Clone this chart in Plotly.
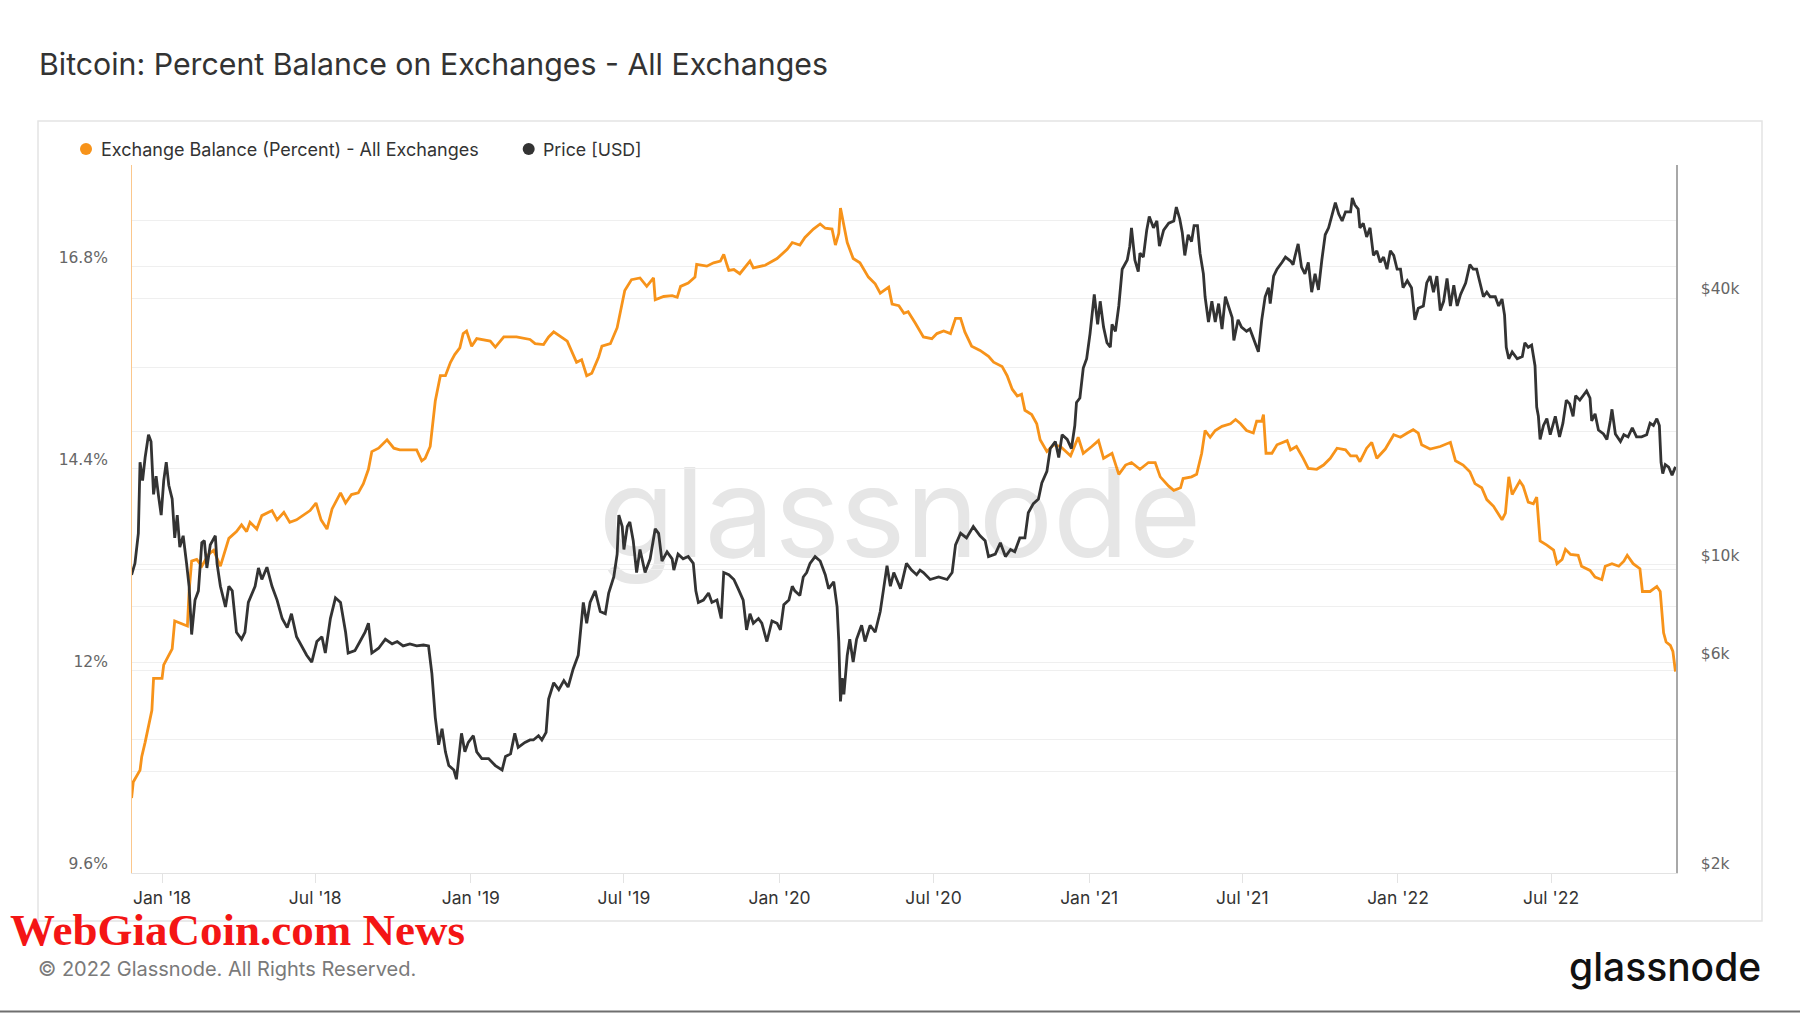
import math
import plotly.graph_objects as go

TITLE = "Bitcoin: Percent Balance on Exchanges - All Exchanges"
SERIES_NAMES = ["Exchange Balance (Percent) - All Exchanges", "Price [USD]"]
COPYRIGHT = "© 2022 Glassnode. All Rights Reserved."
BRAND = "glassnode"
OVERLAY_TAG = "WebGiaCoin.com News"

balance_dates = [
    "2017-11-26","2017-11-28","2017-12-06","2017-12-08","2017-12-12","2017-12-16","2017-12-20","2017-12-22","2018-01-01","2018-01-03",
    "2018-01-09","2018-01-13","2018-01-16","2018-01-24","2018-01-31","2018-02-02","2018-02-05","2018-02-11","2018-02-17","2018-02-25",
    "2018-03-03","2018-03-11","2018-03-17","2018-03-21","2018-03-30","2018-04-05","2018-04-11","2018-04-15","2018-04-23","2018-04-29",
    "2018-05-11","2018-05-17","2018-05-25","2018-06-01","2018-06-09","2018-06-17","2018-06-25","2018-07-02","2018-07-08","2018-07-15",
    "2018-07-21","2018-07-31","2018-08-06","2018-08-13","2018-08-21","2018-08-27","2018-09-02","2018-09-06","2018-09-14","2018-09-24",
    "2018-10-02","2018-10-09","2018-10-29","2018-11-04","2018-11-08","2018-11-14","2018-11-16","2018-11-20","2018-11-26","2018-12-02",
    "2018-12-08","2018-12-13","2018-12-19","2018-12-23","2018-12-27","2019-01-02","2019-01-08","2019-01-24","2019-01-30","2019-02-09",
    "2019-02-24","2019-03-12","2019-03-18","2019-03-28","2019-04-03","2019-04-09","2019-04-25","2019-05-01","2019-05-06","2019-05-12",
    "2019-05-18","2019-05-24","2019-06-01","2019-06-05","2019-06-15","2019-06-23","2019-06-29","2019-07-02","2019-07-10","2019-07-20",
    "2019-07-28","2019-08-05","2019-08-07","2019-08-17","2019-08-27","2019-09-02","2019-09-06","2019-09-15","2019-09-23","2019-09-25",
    "2019-10-07","2019-10-15","2019-10-23","2019-10-27","2019-10-31","2019-11-02","2019-11-08","2019-11-15","2019-11-27","2019-12-01",
    "2019-12-15","2019-12-29","2020-01-10","2020-01-16","2020-01-25","2020-01-31","2020-02-10","2020-02-18","2020-02-24","2020-03-03",
    "2020-03-07","2020-03-11","2020-03-13","2020-03-17","2020-03-21","2020-03-28","2020-04-05","2020-04-15","2020-04-23","2020-04-29",
    "2020-05-09","2020-05-13","2020-05-21","2020-05-27","2020-06-01","2020-06-09","2020-06-19","2020-06-29","2020-07-05","2020-07-13",
    "2020-07-21","2020-07-27","2020-08-02","2020-08-07","2020-08-15","2020-08-25","2020-09-04","2020-09-10","2020-09-20","2020-09-26",
    "2020-10-02","2020-10-08","2020-10-13","2020-10-17","2020-10-25","2020-10-31","2020-11-04","2020-11-12","2020-11-20","2020-11-28",
    "2020-12-10","2020-12-19","2020-12-25","2021-01-04","2021-01-12","2021-01-18","2021-01-28","2021-02-05","2021-02-13","2021-02-20",
    "2021-03-02","2021-03-12","2021-03-20","2021-03-26","2021-04-05","2021-04-11","2021-04-19","2021-04-22","2021-05-02","2021-05-08",
    "2021-05-14","2021-05-18","2021-05-24","2021-05-30","2021-06-07","2021-06-17","2021-06-23","2021-06-29","2021-07-06","2021-07-14",
    "2021-07-18","2021-07-24","2021-07-26","2021-07-29","2021-08-05","2021-08-11","2021-08-23","2021-08-27","2021-09-03","2021-09-11",
    "2021-09-17","2021-09-27","2021-10-05","2021-10-13","2021-10-21","2021-10-31","2021-11-06","2021-11-13","2021-11-17","2021-11-25",
    "2021-12-01","2021-12-07","2021-12-17","2021-12-27","2022-01-04","2022-01-12","2022-01-19","2022-01-25","2022-01-29","2022-02-08",
    "2022-02-20","2022-03-04","2022-03-10","2022-03-19","2022-03-27","2022-04-02","2022-04-10","2022-04-16","2022-04-24","2022-05-04",
    "2022-05-08","2022-05-12","2022-05-16","2022-05-25","2022-05-29","2022-06-04","2022-06-10","2022-06-14","2022-06-18","2022-06-26",
    "2022-07-04","2022-07-08","2022-07-14","2022-07-18","2022-07-24","2022-08-02","2022-08-06","2022-08-16","2022-08-22","2022-08-30",
    "2022-09-03","2022-09-11","2022-09-19","2022-09-25","2022-09-29","2022-10-06","2022-10-14","2022-10-17","2022-10-26","2022-11-03",
    "2022-11-07","2022-11-11","2022-11-14","2022-11-19","2022-11-22","2022-11-25",
]
balance_pct = [
    10.49,10.68,10.82,10.98,11.15,11.36,11.53,11.91,11.91,12.07,
    12.18,12.26,12.59,12.56,12.53,12.94,13.30,13.32,13.24,13.38,
    13.43,13.24,13.43,13.57,13.65,13.73,13.65,13.76,13.68,13.84,
    13.90,13.79,13.88,13.76,13.79,13.84,13.90,13.99,13.79,13.68,
    13.92,14.11,13.99,14.09,14.11,14.22,14.39,14.60,14.64,14.74,
    14.64,14.62,14.62,14.49,14.52,14.66,14.85,15.20,15.50,15.50,
    15.66,15.75,15.83,16.00,16.03,15.85,15.94,15.91,15.84,15.96,
    15.96,15.93,15.88,15.87,15.96,16.02,15.91,15.77,15.66,15.69,
    15.50,15.53,15.72,15.85,15.88,16.07,16.35,16.51,16.64,16.66,
    16.56,16.66,16.40,16.44,16.45,16.43,16.56,16.60,16.67,16.82,
    16.80,16.84,16.86,16.94,16.81,16.75,16.76,16.71,16.86,16.78,
    16.81,16.89,17.00,17.08,17.05,17.14,17.24,17.30,17.25,17.24,
    17.05,17.19,17.49,17.30,17.08,16.89,16.84,16.67,16.59,16.48,
    16.55,16.35,16.33,16.24,16.26,16.13,15.96,15.94,16.00,16.03,
    16.00,16.18,16.18,16.02,15.85,15.80,15.73,15.66,15.61,15.50,
    15.34,15.26,15.28,15.09,15.04,14.93,14.74,14.60,14.68,14.66,
    14.55,14.77,14.58,14.66,14.73,14.52,14.58,14.33,14.44,14.47,
    14.39,14.47,14.47,14.30,14.19,14.14,14.17,14.28,14.30,14.33,
    14.58,14.85,14.77,14.85,14.90,14.93,14.98,14.93,14.85,14.82,
    14.96,14.96,15.04,14.58,14.58,14.68,14.73,14.62,14.66,14.52,
    14.40,14.39,14.44,14.52,14.64,14.62,14.55,14.55,14.48,14.64,
    14.71,14.52,14.63,14.80,14.77,14.82,14.86,14.82,14.68,14.63,
    14.66,14.71,14.49,14.44,14.36,14.22,14.17,14.03,13.95,13.79,
    13.87,14.30,14.09,14.25,14.19,14.00,13.98,14.06,13.54,13.49,
    13.43,13.27,13.32,13.44,13.38,13.37,13.24,13.19,13.11,13.08,
    13.24,13.27,13.24,13.30,13.37,13.27,13.21,12.94,12.94,13.00,
    12.94,12.45,12.34,12.30,12.23,11.99,
]

price_dates = [
    "2017-11-26","2017-11-30","2017-12-04","2017-12-06","2017-12-09","2017-12-12","2017-12-16","2017-12-19","2017-12-22","2017-12-25",
    "2017-12-28","2017-12-31","2018-01-03","2018-01-06","2018-01-09","2018-01-13","2018-01-16","2018-01-19","2018-01-22","2018-01-26",
    "2018-01-30","2018-02-02","2018-02-05","2018-02-09","2018-02-13","2018-02-17","2018-02-20","2018-02-23","2018-02-27","2018-03-05",
    "2018-03-07","2018-03-11","2018-03-17","2018-03-21","2018-03-25","2018-03-30","2018-04-05","2018-04-09","2018-04-13","2018-04-21",
    "2018-04-25","2018-04-29","2018-05-05","2018-05-11","2018-05-17","2018-05-23","2018-05-29","2018-06-03","2018-06-09","2018-06-15",
    "2018-06-21","2018-06-27","2018-07-03","2018-07-09","2018-07-13","2018-07-19","2018-07-25","2018-07-31","2018-08-06","2018-08-09",
    "2018-08-17","2018-08-23","2018-08-29","2018-09-02","2018-09-06","2018-09-14","2018-09-22","2018-09-30","2018-10-06","2018-10-13",
    "2018-10-21","2018-10-29","2018-11-06","2018-11-12","2018-11-16","2018-11-20","2018-11-24","2018-11-28","2018-12-02","2018-12-06",
    "2018-12-12","2018-12-15","2018-12-19","2018-12-21","2018-12-25","2018-12-29","2019-01-04","2019-01-08","2019-01-14","2019-01-22",
    "2019-01-30","2019-02-07","2019-02-11","2019-02-17","2019-02-22","2019-02-26","2019-03-06","2019-03-12","2019-03-16","2019-03-22",
    "2019-03-26","2019-03-31","2019-04-03","2019-04-09","2019-04-15","2019-04-21","2019-04-26","2019-05-02","2019-05-08","2019-05-11",
    "2019-05-14","2019-05-18","2019-05-22","2019-05-28","2019-06-03","2019-06-09","2019-06-13","2019-06-19","2019-06-23","2019-06-25",
    "2019-06-29","2019-07-01","2019-07-05","2019-07-08","2019-07-12","2019-07-16","2019-07-20","2019-07-26","2019-08-01","2019-08-07",
    "2019-08-11","2019-08-15","2019-08-21","2019-08-27","2019-08-29","2019-09-03","2019-09-09","2019-09-15","2019-09-21","2019-09-24",
    "2019-09-27","2019-10-03","2019-10-09","2019-10-13","2019-10-19","2019-10-24","2019-10-27","2019-11-02","2019-11-08","2019-11-13",
    "2019-11-19","2019-11-23","2019-11-27","2019-12-01","2019-12-07","2019-12-11","2019-12-17","2019-12-23","2019-12-29","2020-01-02",
    "2020-01-06","2020-01-12","2020-01-16","2020-01-19","2020-01-25","2020-01-29","2020-02-02","2020-02-06","2020-02-12","2020-02-18",
    "2020-02-24","2020-02-28","2020-03-05","2020-03-09","2020-03-11","2020-03-13","2020-03-15","2020-03-17","2020-03-21","2020-03-24",
    "2020-03-28","2020-04-01","2020-04-07","2020-04-11","2020-04-17","2020-04-23","2020-04-29","2020-05-03","2020-05-07","2020-05-11",
    "2020-05-15","2020-05-23","2020-05-30","2020-06-05","2020-06-11","2020-06-15","2020-06-19","2020-06-27","2020-07-07","2020-07-17",
    "2020-07-23","2020-07-27","2020-08-02","2020-08-09","2020-08-17","2020-08-25","2020-08-31","2020-09-04","2020-09-12","2020-09-18",
    "2020-09-24","2020-09-30","2020-10-05","2020-10-11","2020-10-17","2020-10-21","2020-10-27","2020-11-02","2020-11-06","2020-11-12",
    "2020-11-16","2020-11-22","2020-11-26","2020-11-30","2020-12-06","2020-12-11","2020-12-15","2020-12-17","2020-12-21","2020-12-25",
    "2020-12-29","2021-01-02","2021-01-07","2021-01-11","2021-01-14","2021-01-18","2021-01-22","2021-01-26","2021-01-28","2021-02-01",
    "2021-02-05","2021-02-09","2021-02-15","2021-02-18","2021-02-20","2021-02-24","2021-02-28","2021-03-02","2021-03-06","2021-03-10",
    "2021-03-13","2021-03-18","2021-03-22","2021-03-25","2021-03-30","2021-04-05","2021-04-11","2021-04-14","2021-04-18","2021-04-21",
    "2021-04-24","2021-04-28","2021-05-02","2021-05-05","2021-05-09","2021-05-12","2021-05-16","2021-05-18","2021-05-20","2021-05-22",
    "2021-05-26","2021-05-30","2021-06-03","2021-06-07","2021-06-11","2021-06-15","2021-06-19","2021-06-21","2021-06-26","2021-06-30",
    "2021-07-06","2021-07-10","2021-07-14","2021-07-20","2021-07-24","2021-07-28","2021-08-01","2021-08-03","2021-08-07","2021-08-11",
    "2021-08-17","2021-08-21","2021-08-27","2021-08-30","2021-09-01","2021-09-05","2021-09-09","2021-09-13","2021-09-17","2021-09-21",
    "2021-09-25","2021-09-29","2021-10-03","2021-10-07","2021-10-11","2021-10-15","2021-10-19","2021-10-23","2021-10-27","2021-10-31",
    "2021-11-06","2021-11-08","2021-11-11","2021-11-15","2021-11-17","2021-11-21","2021-11-25","2021-11-29","2021-12-03","2021-12-07",
    "2021-12-11","2021-12-15","2021-12-19","2021-12-23","2021-12-27","2021-12-31","2022-01-04","2022-01-07","2022-01-12","2022-01-17",
    "2022-01-21","2022-01-25","2022-01-31","2022-02-04","2022-02-08","2022-02-12","2022-02-16","2022-02-20","2022-02-24","2022-02-28",
    "2022-03-04","2022-03-08","2022-03-12","2022-03-16","2022-03-22","2022-03-27","2022-03-31","2022-04-04","2022-04-08","2022-04-12",
    "2022-04-16","2022-04-20","2022-04-26","2022-04-30","2022-05-04","2022-05-07","2022-05-09","2022-05-12","2022-05-16","2022-05-22",
    "2022-05-28","2022-05-31","2022-06-04","2022-06-08","2022-06-12","2022-06-14","2022-06-16","2022-06-18","2022-06-22","2022-06-26",
    "2022-06-30","2022-07-06","2022-07-11","2022-07-15","2022-07-19","2022-07-23","2022-07-27","2022-07-30","2022-08-04","2022-08-08",
    "2022-08-12","2022-08-16","2022-08-18","2022-08-22","2022-08-26","2022-09-01","2022-09-05","2022-09-09","2022-09-11","2022-09-15",
    "2022-09-21","2022-09-25","2022-09-30","2022-10-05","2022-10-10","2022-10-16","2022-10-22","2022-10-26","2022-10-30","2022-11-03",
    "2022-11-06","2022-11-08","2022-11-10","2022-11-13","2022-11-17","2022-11-21","2022-11-25",
]
price_usd = [
    9460,10040,11740,17000,15450,17420,19620,18940,14380,15820,
    14200,12910,15450,17000,15080,14040,11460,12910,10920,11590,
    10040,8910,6930,8290,8700,11180,11300,9800,11050,11590,
    10040,8910,8000,8910,8700,7010,6760,7010,8190,8910,
    9800,9230,9840,8910,8290,7530,7180,7720,6850,6530,
    6220,6000,6680,6850,6290,7530,8390,8190,7010,6290,
    6370,6680,7010,7350,6290,6450,6760,6600,6680,6530,
    6600,6530,6560,6530,5650,4500,3900,4240,3760,3500,
    3420,3260,3850,4140,3760,3950,4090,3760,3630,3630,
    3500,3420,3670,3720,4140,3850,3950,4000,4000,4090,
    4000,4160,4950,5390,5200,5450,5270,5790,6220,7180,
    8190,7350,8190,8700,7810,7720,8600,9350,10530,12910,
    12160,10790,12160,12460,11300,9570,10790,9570,10280,12020,
    11740,10160,10660,10280,9690,10530,10280,10400,10040,8700,
    8190,8290,8600,8190,8290,7530,9570,9460,9230,8800,
    8290,7100,7720,7350,7530,7350,6680,7440,7350,7100,
    8090,8290,8910,8700,8490,9350,9570,10040,10400,10160,
    9460,8800,9120,8000,6680,4890,5520,5070,6220,6760,
    6000,6760,7270,6680,7270,7010,7810,8800,9920,8910,
    9570,8800,10040,9690,9460,9690,9570,9230,9350,9230,
    9570,11050,11740,11460,12160,11590,11300,10400,10530,11180,
    10400,10790,10660,11460,11460,13070,13700,14040,15260,16210,
    18260,18940,17420,19620,19150,18260,20590,23220,23760,27780,
    29150,33240,40760,34870,39330,34370,31690,30950,34870,33640,
    38380,46480,48760,52400,57660,48760,45920,50540,49500,56980,
    61200,57660,59780,52400,56980,59060,59780,64240,60470,56300,
    49940,55620,53680,58350,58350,50540,45380,40270,37480,35300,
    39330,35300,38860,34040,40270,37920,36140,32070,35720,34370,
    33640,34040,32460,30220,35720,40270,42220,38860,44830,46480,
    48180,49500,48500,47620,49500,53040,47000,45380,48180,41250,
    45380,41720,48760,55620,57660,61940,65780,61940,59780,62690,
    62690,67380,65000,63560,57660,59060,55000,57660,49940,51160,
    48180,49500,46480,51160,49940,46480,46480,42220,43780,42220,
    35720,37920,38380,43270,44830,41250,44830,37480,39330,44300,
    38380,42740,38380,40760,43270,47620,46480,46480,43270,40270,
    41250,40270,40270,38380,39800,36600,30950,29150,30220,29150,
    29500,31690,30950,31300,28120,22670,21600,19150,20590,21340,
    19620,21600,19400,20840,23500,23050,21600,24060,23500,24060,
    24640,23760,21100,21870,20110,19700,19150,21100,22400,19700,
    18940,19620,19400,20350,19400,19400,19620,20840,20590,21340,
    20590,17000,16020,16800,16580,15900,16600,
]

pct_tick_values = [9.6, 10.8, 12.0, 13.2, 14.4, 15.6, 16.8, 18.0]
pct_tick_labels = ["9.6%", "", "12%", "", "14.4%", "", "16.8%", ""]
price_tick_values = [2000, 4000, 6000, 8000, 10000, 20000, 40000, 60000]
price_tick_labels = ["$2k", "", "$6k", "", "$10k", "", "$40k", ""]
pct_range = [9.6, 18.0]
price_range = [2000, 80000]
date_range = ["2017-11-26 12:00", "2022-11-25 16:00"]

assert len(balance_dates) == len(balance_pct)
assert len(price_dates) == len(price_usd)

# ---------------- layout geometry ----------------
W, H = 1800, 1013
L, R, T, B = 132, 124, 165, 140
PW, PH = W - L - R, H - T - B


def fx(x):
    return (x - L) / PW


def fy(y):
    return (H - B - y) / PH


ORANGE = "#f7931a"
DARK = "#333333"
GRID = "#efefef"

fig = go.Figure()
fig.add_trace(go.Scatter(
    x=balance_dates, y=balance_pct, mode="lines", name=SERIES_NAMES[0],
    line=dict(color=ORANGE, width=2.8), yaxis="y", showlegend=False,
))
fig.add_trace(go.Scatter(
    x=price_dates, y=price_usd, mode="lines", name=SERIES_NAMES[1],
    line=dict(color=DARK, width=2.8), yaxis="y2", showlegend=False,
))

tick_font = dict(family="DejaVu Sans", size=15.5, color="#666666")

fig.update_layout(
    width=W, height=H,
    margin=dict(l=L, r=R, t=T, b=B, pad=0),
    paper_bgcolor="white", plot_bgcolor="white",
    showlegend=False,
    xaxis=dict(
        type="date", range=date_range, tickformat="%b '%y", dtick="M6", tick0="2018-01-01",
        showgrid=False, zeroline=False, showline=True, linecolor="#e3e3e3", linewidth=1,
        ticks="outside", ticklen=9, tickcolor="#e3e3e3", tickwidth=1,
        tickfont=dict(family="Inter", size=17.5, color="#333333"),
    ),
    yaxis=dict(
        range=pct_range, tickvals=pct_tick_values, ticktext=pct_tick_labels,
        showgrid=True, gridcolor=GRID, gridwidth=1, zeroline=False,
        showline=True, linecolor="#fbc78c", linewidth=1, ticks="",
        tickfont=tick_font, ticklabelstandoff=20, ticklabelshift=-9,
    ),
    yaxis2=dict(
        type="log", range=[math.log10(price_range[0]), math.log10(price_range[1])],
        overlaying="y", side="right",
        tickvals=price_tick_values, ticktext=price_tick_labels,
        showgrid=True, gridcolor=GRID, gridwidth=1, zeroline=False,
        showline=True, linecolor="#a8a8a8", linewidth=1.5, ticks="",
        tickfont=tick_font, ticklabelstandoff=20, ticklabelshift=-9,
    ),
)

shapes = [
    # card frame
    dict(type="rect", xref="paper", yref="paper", x0=fx(38), x1=fx(1762), y0=fy(921), y1=fy(121),
         line=dict(color="#e4e4e4", width=1.5), fillcolor="rgba(0,0,0,0)", layer="below"),
    # background brand watermark
    dict(type="rect", xref="paper", yref="paper", x0=fx(600), x1=fx(1200), y0=fy(578), y1=fy(438),
         line=dict(width=0), fillcolor="rgba(0,0,0,0)", layer="below",
         label=dict(text=BRAND, textposition="middle center",
                    font=dict(family="Inter", size=124, color="#e6e6e6"))),
    # legend dots
    dict(type="circle", xref="paper", yref="paper", xsizemode="pixel", ysizemode="pixel",
         xanchor=fx(86), yanchor=fy(149), x0=-6, x1=6, y0=-6, y1=6,
         fillcolor=ORANGE, line=dict(width=0)),
    dict(type="circle", xref="paper", yref="paper", xsizemode="pixel", ysizemode="pixel",
         xanchor=fx(528.7), yanchor=fy(149), x0=-6, x1=6, y0=-6, y1=6,
         fillcolor=DARK, line=dict(width=0)),
    # bottom rule
    dict(type="line", xref="paper", yref="paper", x0=fx(0), x1=fx(1800), y0=fy(1011.5), y1=fy(1011.5),
         line=dict(color="#6f6f6f", width=2)),
]
fig.update_layout(shapes=shapes)

annotations = [
    dict(text=TITLE, x=fx(37), y=fy(64), xanchor="left", yanchor="middle",
         font=dict(family="Inter", size=30.3, color="#333333")),
    dict(text=SERIES_NAMES[0], x=fx(99), y=fy(149), xanchor="left", yanchor="middle",
         font=dict(family="Inter", size=18, color="#333333")),
    dict(text=SERIES_NAMES[1], x=fx(541), y=fy(149), xanchor="left", yanchor="middle",
         font=dict(family="Inter", size=17.8, color="#333333")),
    dict(text=COPYRIGHT, x=fx(36), y=fy(969), xanchor="left", yanchor="middle",
         font=dict(family="Inter", size=20, color="#7a7a7a")),
    dict(text=BRAND, x=fx(1763), y=fy(966), xanchor="right", yanchor="middle",
         font=dict(family="Inter", size=39, color="#111111", weight=500)),
    dict(text=OVERLAY_TAG, x=fx(9), y=fy(930), xanchor="left", yanchor="middle", borderpad=0,
         font=dict(family="Liberation Serif", size=45, color="#f41515", weight="bold")),
]
for a in annotations:
    a.update(xref="paper", yref="paper", showarrow=False)
fig.update_layout(annotations=annotations)

fig.write_html("out.html")
